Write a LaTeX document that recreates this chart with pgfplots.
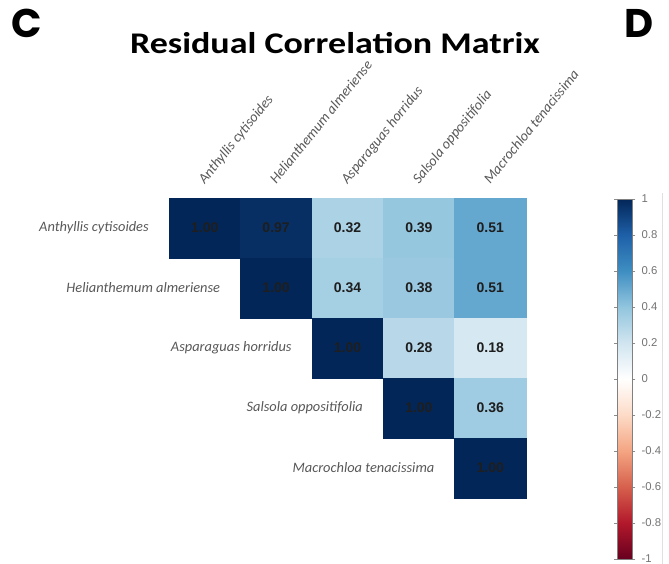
\documentclass[border=0pt]{standalone}
\usepackage{pgfplots}
\usepackage{pgfplotstable}
\pgfplotsset{compat=1.18}
\usepackage{fontspec}
\setmainfont{Liberation Sans}
\newfontfamily\calibri{Carlito}
\newfontfamily\heavy{Poppins}

\definecolor{labelgray}{RGB}{88,88,88}
\definecolor{numcol}{RGB}{30,30,30}

% one cell of the correlation grid (53.55pt x 45pt)
\pgfdeclareplotmark{cell}{%
  \pgfpathrectangle{\pgfpoint{-26.775pt}{-22.5pt}}{\pgfpoint{53.55pt}{45pt}}%
  \pgfusepathqfillstroke}

% upper triangle of the residual correlation matrix
% x = column, y = 6 - row
\pgfplotstableread{
x y r
1 5 1.00
2 5 0.97
3 5 0.32
4 5 0.39
5 5 0.51
2 4 1.00
3 4 0.34
4 4 0.38
5 4 0.51
3 3 1.00
4 3 0.28
5 3 0.18
4 2 1.00
5 2 0.36
5 1 1.00
}\corrtab

\begin{document}
\begin{tikzpicture}
\path[use as bounding box] (0,0) rectangle (501.75pt,423pt);

\node[anchor=base west, inner sep=0pt, font=\heavy\bfseries\fontsize{30}{30}\selectfont] at (8.5pt,394.5pt) {C};
\node[anchor=base west, inner sep=0pt, font=\heavy\bfseries\fontsize{30}{30}\selectfont] at (468pt,394.5pt) {D};
\node[anchor=base, inner sep=0pt, xscale=1.2, font=\calibri\bfseries\fontsize{22.5}{22.5}\selectfont] at (251.25pt,382.5pt) {Residual Correlation Matrix};

\draw[black!12, line width=0.6pt] (496.5pt,278.25pt) -- (496.5pt,0pt);

\begin{axis}[
  scale only axis, width=267.75pt, height=225pt,
  at={(126.75pt,274.5pt)}, anchor=north west,
  xmin=0.5, xmax=5.5, ymin=0.5, ymax=5.5,
  axis line style={draw=none}, major tick length=0pt,
  xtick={1,2,3,4,5},
  xticklabels={Anthyllis cytisoides, Helianthemum almeriense, Asparaguas horridus, Salsola oppositifolia, Macrochloa tenacissima},
  xticklabel pos=upper,
  xticklabel style={rotate=51, anchor=base west, inner sep=0pt,
    font=\calibri\itshape\fontsize{10.8}{12}\selectfont, text=labelgray},
  xticklabel shift=9.75pt,
  ytick=\empty,
  clip=false,
  colormap={rdbu}{
    rgb255=(103,0,31) rgb255=(178,24,43) rgb255=(214,96,77)
    rgb255=(244,165,130) rgb255=(253,219,199) rgb255=(255,255,255)
    rgb255=(209,229,240) rgb255=(146,197,222) rgb255=(62,142,194)
    rgb255=(30,96,168) rgb255=(3,38,88)},
  point meta min=-1, point meta max=1,
  colorbar,
  colorbar style={
    scale only axis, width=11.25pt, height=270pt,
    at={(parent axis.north east)}, anchor=north west,
    xshift=60pt, yshift=-0.75pt,
    ytick={-1,-0.8,-0.6,-0.4,-0.2,0,0.2,0.4,0.6,0.8,1},
    yticklabels={-1,-0.8,-0.6,-0.4,-0.2,0,0.2,0.4,0.6,0.8,1},
    yticklabel style={font=\fontsize{8.5}{9}\selectfont, text=black!55,
      anchor=west, inner sep=0pt, xshift=4.5pt},
    axis line style={draw=black!50, line width=0.5pt},
    major tick length=2.25pt, tick align=outside,
    ytick style={draw=black!45, line width=0.5pt},
  },
]
\addplot[scatter, only marks, mark=cell, point meta=explicit,
  scatter/use mapped color={draw=mapped color, fill=mapped color},
  mark options={line width=0.3pt}]
  table[x=x, y=y, meta=r] {\corrtab};

\addplot[only marks, mark=none, point meta=explicit,
  nodes near coords={\pgfmathprintnumber[fixed, fixed zerofill, precision=2, assume math mode=true]{\pgfplotspointmeta}},
  nodes near coords align=center,
  every node near coord/.append style={anchor=center, text=numcol,
    font=\bfseries\fontsize{10.5}{12}\selectfont}]
  table[x=x, y=y, meta=r] {\corrtab};

\node[anchor=east, inner sep=0pt, xshift=-15pt, text=labelgray, font=\calibri\itshape\fontsize{10.8}{12}\selectfont] at (axis cs:0.5,5) {Anthyllis cytisoides};
\node[anchor=east, inner sep=0pt, xshift=-15pt, text=labelgray, font=\calibri\itshape\fontsize{10.8}{12}\selectfont] at (axis cs:1.5,4) {Helianthemum almeriense};
\node[anchor=east, inner sep=0pt, xshift=-15pt, text=labelgray, font=\calibri\itshape\fontsize{10.8}{12}\selectfont] at (axis cs:2.5,3) {Asparaguas horridus};
\node[anchor=east, inner sep=0pt, xshift=-15pt, text=labelgray, font=\calibri\itshape\fontsize{10.8}{12}\selectfont] at (axis cs:3.5,2) {Salsola oppositifolia};
\node[anchor=east, inner sep=0pt, xshift=-15pt, text=labelgray, font=\calibri\itshape\fontsize{10.8}{12}\selectfont] at (axis cs:4.5,1) {Macrochloa tenacissima};
\end{axis}
\end{tikzpicture}
\end{document}
